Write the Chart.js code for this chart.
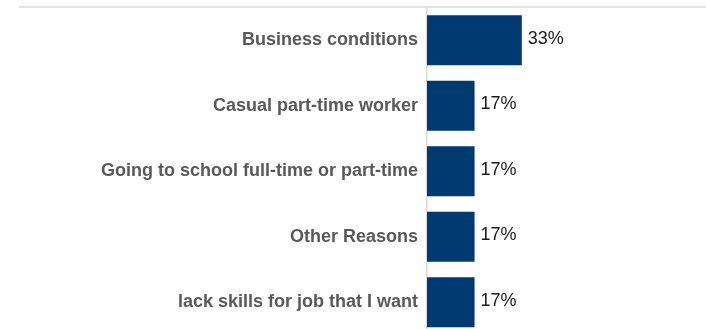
<!DOCTYPE html>
<html>
<head>
<meta charset="utf-8">
<script src="https://cdn.jsdelivr.net/npm/chart.js@4/dist/chart.umd.min.js"></script>
<style>
  html, body { margin: 0; padding: 0; background: #fff; overflow: hidden; }
  #wrap { width: 706px; height: 335px; }
</style>
</head>
<body>
<div id="wrap"><canvas id="reasonsChart" width="706" height="335"></canvas></div>
<script>
// Reasons (share of respondents)
const categories = [
    'Business conditions',
    'Casual part-time worker',
    'Going to school full-time or part-time',
    'Other Reasons',
    'lack skills for job that I want'
];
const shares = [33.3, 16.7, 16.7, 16.7, 16.7];
const valueLabels = ['33%', '17%', '17%', '17%', '17%'];

const barColor = '#003a70';
const lineColor = '#d9d9d9';

// Top rule line and value labels at the end of each bar
const decorPlugin = {
    id: 'decor',
    afterDraw(chart) {
        const ctx = chart.ctx;
        const area = chart.chartArea;
        ctx.save();
        ctx.strokeStyle = lineColor;
        ctx.lineWidth = 1.5;
        ctx.beginPath();
        ctx.moveTo(19, area.top - 0.5);
        ctx.lineTo(chart.width, area.top - 0.5);
        ctx.stroke();

        ctx.fillStyle = '#1a1a1a';
        ctx.font = '18px "Liberation Sans", Arial, sans-serif';
        ctx.textAlign = 'left';
        ctx.textBaseline = 'alphabetic';
        const meta = chart.getDatasetMeta(0);
        meta.data.forEach((bar, i) => {
            ctx.fillText(valueLabels[i], bar.x + 6, bar.y + 3.5);
        });
        ctx.restore();
    }
};

function initializeChart() {
    const ctx = document.getElementById('reasonsChart');

    new Chart(ctx, {
        type: 'bar',
        data: {
            labels: categories,
            datasets: [{
                data: shares,
                backgroundColor: barColor,
                borderWidth: 0,
                barPercentage: 0.765,
                categoryPercentage: 1
            }]
        },
        options: {
            indexAxis: 'y',
            responsive: false,
            animation: false,
            layout: {
                padding: { top: 7.5, right: 0, bottom: 0, left: 0 }
            },
            plugins: {
                legend: { display: false },
                tooltip: { enabled: false }
            },
            scales: {
                x: {
                    display: false,
                    min: 0,
                    max: 98
                },
                y: {
                    afterFit: scale => {
                        scale.width = 427;
                        scale.paddingTop = 0;
                        scale.paddingBottom = 0;
                    },
                    grid: {
                        display: false,
                        drawTicks: false
                    },
                    border: {
                        display: true,
                        color: lineColor,
                        width: 1.5
                    },
                    ticks: {
                        padding: 9,
                        color: '#595959',
                        font: {
                            family: '"Liberation Sans", Arial, sans-serif',
                            size: 18,
                            weight: 'bold'
                        }
                    }
                }
            }
        },
        plugins: [decorPlugin]
    });
}

initializeChart();
</script>
</body>
</html>
